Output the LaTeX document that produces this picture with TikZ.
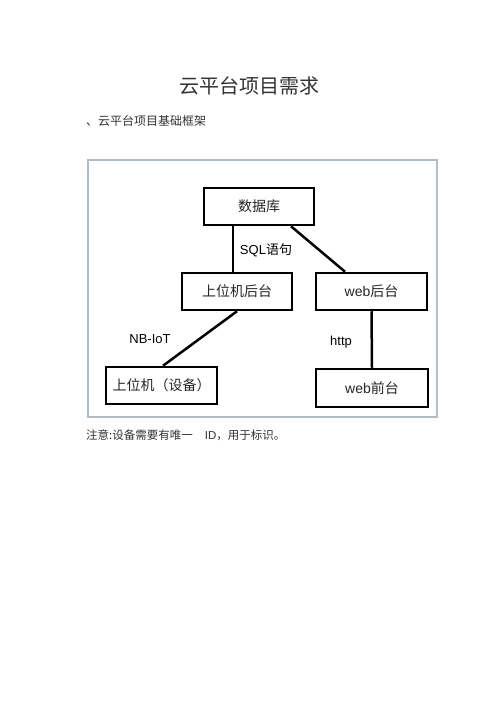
\documentclass[tikz,border=0pt]{standalone}
\usepackage{fontspec}
\setmainfont{Liberation Sans}
\newfontfamily\cjk{Noto Sans CJK SC}
\definecolor{framecol}{RGB}{170,190,208}
\begin{document}
\begin{tikzpicture}[x=1pt,y=-1pt,
  box/.style={draw=black, line width=2.5pt, minimum width=110pt, minimum height=37pt, inner sep=0pt, font=\fontsize{14}{16}\selectfont, text=black!85},
  conn/.style={line width=2.5pt, black},
  lbl/.style={font=\fontsize{13}{15}\selectfont, text=black, inner sep=0pt}]
\path[use as bounding box, fill=white] (0,0) rectangle (500,708);
\node[font=\cjk\fontsize{20}{24}\selectfont, text=black!80, inner sep=0pt] (title) at (249,86) {云平台项目需求};
\node[font=\cjk\fontsize{12}{14}\selectfont, text=black!80, inner sep=0pt, anchor=west] (sub) at (86,121) {、云平台项目基础框架};
\draw[draw=framecol, line width=1.2pt] (88,160) rectangle (437,417);
\node[box] (db) at (259,206.5) {\cjk 数据库};
\node[box] (ub) at (237,291.5) {\cjk 上位机后台};
\node[box, minimum width=111pt] (wb) at (371.5,291.5) {web\cjk 后台};
\node[box, minimum width=111pt] (dev) at (161.5,385.5) {\cjk 上位机（设备）};
\node[box, minimum width=112pt, minimum height=38pt] (wf) at (372,388) {web\cjk 前台};
\draw[conn] ([xshift=-4pt]ub.north |- db.south) -- ([xshift=-4pt]ub.north);
\draw[conn] ([xshift=32pt]db.south) -- ([xshift=-26.5pt]wb.north);
\draw[conn] (ub.south) -- ([xshift=1.5pt]dev.north);
\draw[conn] (wb.south) -- (wf.north);
\node[lbl] (sql) at (266,250) {SQL{\cjk 语句}};
\node[lbl] (nb) at (150,339) {NB-IoT};
\node[lbl] (http) at (341,342) {http};
\node[font=\fontsize{11.5}{14}\selectfont, text=black!80, inner sep=0pt, anchor=west] (note) at (86,435) {{\cjk 注意:设备需要有唯一}\hspace{12pt}ID{\cjk ，用于标识。}};
\end{tikzpicture}
\end{document}
